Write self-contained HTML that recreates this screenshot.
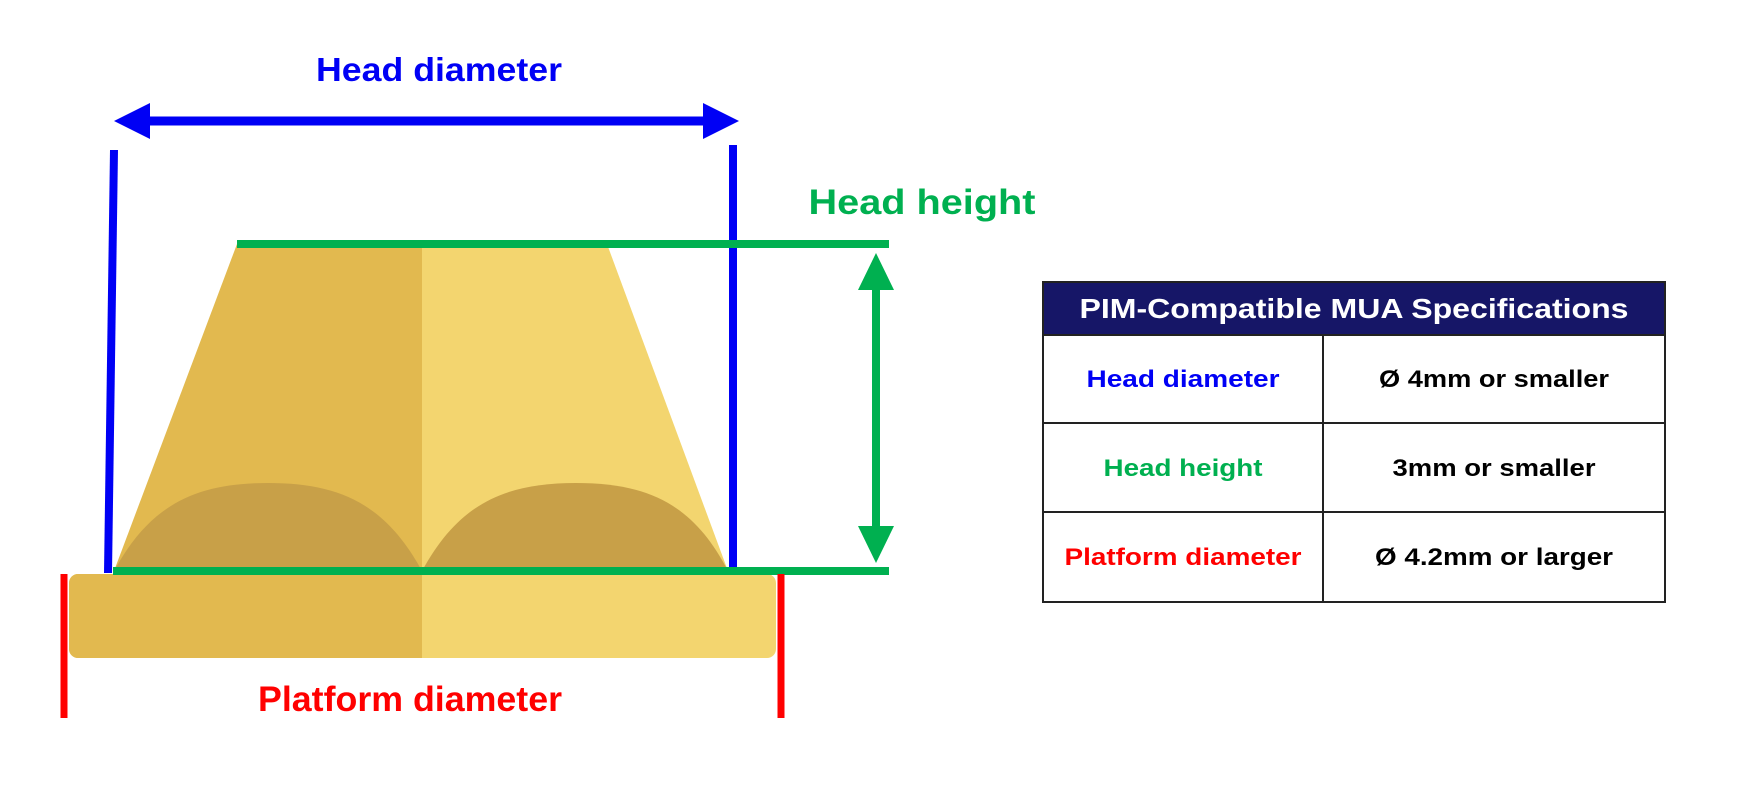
<!DOCTYPE html>
<html><head><meta charset="utf-8"><style>html,body{margin:0;padding:0;background:#fff;}svg{display:block}</style></head>
<body>
<svg width="1738" height="787" viewBox="0 0 1738 787" xmlns="http://www.w3.org/2000/svg" font-family="Liberation Sans, sans-serif" font-weight="bold">
<rect width="1738" height="787" fill="#fff"/>
<!-- platform -->
<rect x="69" y="574" width="707" height="84" rx="9" fill="#f3d56f"/>
<path d="M78 574 H422 V658 H78 A9 9 0 0 1 69 649 V583 A9 9 0 0 1 78 574Z" fill="#e2b94f"/>
<!-- trapezoid -->
<polygon points="237,244 422,244 422,571 114,571" fill="#e2b94f"/>
<polygon points="422,244 607,244 728,571 422,571" fill="#f3d56f"/>
<!-- arches -->
<path d="M114 571 C150 505 195 483 268 483 C341 483 386 505 422 571Z" fill="#c8a048"/>
<path d="M422 571 C458 505 503 483 576 483 C649 483 694 505 728 571Z" fill="#c8a048"/>
<!-- blue -->
<line x1="114" y1="150" x2="108" y2="573" stroke="#0000f5" stroke-width="8"/>
<line x1="733" y1="145" x2="733" y2="569" stroke="#0000f5" stroke-width="8"/>
<line x1="145" y1="121" x2="710" y2="121" stroke="#0000f5" stroke-width="9"/>
<polygon points="114,121 150,103 150,139" fill="#0000f5"/>
<polygon points="739,121 703,103 703,139" fill="#0000f5"/>
<text x="439" y="81" fill="#0000f5" font-size="33" text-anchor="middle" textLength="246" lengthAdjust="spacingAndGlyphs">Head diameter</text>
<!-- green -->
<line x1="237" y1="244" x2="889" y2="244" stroke="#00b050" stroke-width="8"/>
<line x1="113" y1="571" x2="889" y2="571" stroke="#00b050" stroke-width="8"/>
<line x1="876" y1="275" x2="876" y2="540" stroke="#00b050" stroke-width="8"/>
<polygon points="876,253 858,290 894,290" fill="#00b050"/>
<polygon points="876,563 858,526 894,526" fill="#00b050"/>
<text x="922" y="214" fill="#00b050" font-size="35" text-anchor="middle" textLength="227" lengthAdjust="spacingAndGlyphs">Head height</text>
<!-- red -->
<line x1="64" y1="574" x2="64" y2="718" stroke="#ff0000" stroke-width="7"/>
<line x1="781" y1="574" x2="781" y2="718" stroke="#ff0000" stroke-width="7"/>
<text x="410" y="711" fill="#ff0000" font-size="35" text-anchor="middle" textLength="304" lengthAdjust="spacingAndGlyphs">Platform diameter</text>
<!-- table -->
<rect x="1043" y="282" width="622" height="53" fill="#161667"/>
<g stroke="#222" stroke-width="2" fill="none">
<rect x="1043" y="282" width="622" height="320"/>
<line x1="1043" y1="335" x2="1665" y2="335"/>
<line x1="1043" y1="423" x2="1665" y2="423"/>
<line x1="1043" y1="512" x2="1665" y2="512"/>
<line x1="1323" y1="335" x2="1323" y2="602"/>
</g>
<text x="1354" y="318" fill="#fff" font-size="28" text-anchor="middle" textLength="549" lengthAdjust="spacingAndGlyphs">PIM-Compatible MUA Specifications</text>
<g font-size="24" text-anchor="middle">
<text x="1183" y="387" fill="#0000f5" textLength="193" lengthAdjust="spacingAndGlyphs">Head diameter</text>
<text x="1494" y="387" fill="#000" textLength="230" lengthAdjust="spacingAndGlyphs">Ø 4mm or smaller</text>
<text x="1183" y="476" fill="#00b050" textLength="159" lengthAdjust="spacingAndGlyphs">Head height</text>
<text x="1494" y="476" fill="#000" textLength="203" lengthAdjust="spacingAndGlyphs">3mm or smaller</text>
<text x="1183" y="565" fill="#ff0000" textLength="237" lengthAdjust="spacingAndGlyphs">Platform diameter</text>
<text x="1494" y="565" fill="#000" textLength="238" lengthAdjust="spacingAndGlyphs">Ø 4.2mm or larger</text>
</g>
</svg>
</body></html>
